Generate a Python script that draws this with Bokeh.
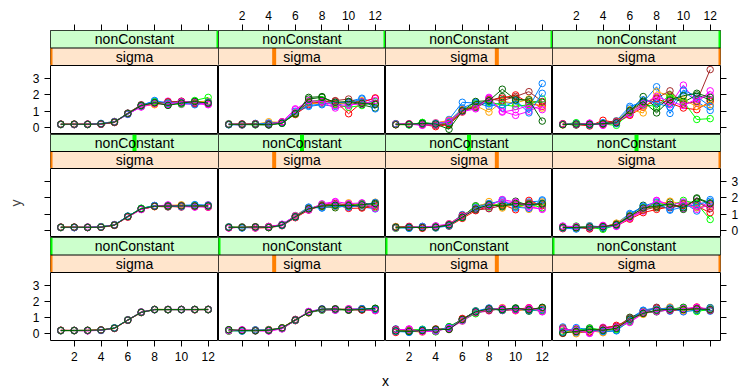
from bokeh.plotting import figure
from bokeh.layouts import gridplot, column
from bokeh.models import Range1d, LinearAxis, FixedTicker, Span
from bokeh.core.properties import value
from bokeh.embed import file_html
from bokeh.resources import INLINE

FONT = "Liberation Sans"

x = list(range(1, 13))
x_ticks = [2, 4, 6, 8, 10, 12]
y_ticks = [0, 1, 2, 3]

sigma_levels = [0.1, 0.2, 0.3, 0.4]            # columns, left to right
non_constant_levels = [1.0, 0.5, 0.0]          # rows, top to bottom

# lattice superpose colours, cycled over the ten replicate series
series_colors = ["#0080ff", "#ff00ff", "#006400", "#ff0000", "#ffa500",
                 "#00ff00", "#a52a2a", "#0080ff", "#ff00ff", "#006400"]

# ---- nonConstant = 1 (top row) ----
y_nc10_s1 = [
    [0.21, 0.19, 0.21, 0.24, 0.36, 0.88, 1.38, 1.62, 1.44, 1.56, 1.62, 1.44],
    [0.19, 0.21, 0.19, 0.21, 0.32, 0.82, 1.28, 1.45, 1.62, 1.42, 1.46, 1.40],
    [0.20, 0.20, 0.20, 0.23, 0.35, 0.87, 1.36, 1.55, 1.38, 1.55, 1.52, 1.58],
    [0.22, 0.18, 0.21, 0.20, 0.33, 0.84, 1.31, 1.46, 1.58, 1.60, 1.44, 1.52],
    [0.20, 0.21, 0.18, 0.25, 0.38, 0.83, 1.34, 1.40, 1.52, 1.48, 1.58, 1.62],
    [0.18, 0.20, 0.20, 0.22, 0.34, 0.86, 1.30, 1.58, 1.46, 1.44, 1.66, 1.85],
    [0.21, 0.22, 0.22, 0.21, 0.31, 0.89, 1.40, 1.50, 1.56, 1.62, 1.50, 1.46],
    [0.20, 0.19, 0.19, 0.26, 0.37, 0.81, 1.33, 1.66, 1.50, 1.52, 1.40, 1.56],
    [0.19, 0.20, 0.21, 0.22, 0.35, 0.85, 1.26, 1.48, 1.42, 1.58, 1.56, 1.42],
    [0.20, 0.21, 0.20, 0.23, 0.34, 0.86, 1.35, 1.52, 1.36, 1.50, 1.60, 1.50],
]
y_nc10_s2 = [
    [0.20, 0.18, 0.26, 0.18, 0.30, 0.92, 1.30, 1.40, 1.30, 1.60, 1.80, 1.50],
    [0.22, 0.22, 0.20, 0.26, 0.34, 1.15, 1.45, 1.55, 1.20, 1.35, 1.60, 1.78],
    [0.19, 0.20, 0.18, 0.16, 0.28, 0.86, 1.85, 1.90, 1.45, 1.55, 1.40, 1.20],
    [0.21, 0.16, 0.24, 0.24, 0.36, 0.80, 1.40, 1.62, 1.62, 0.85, 1.55, 1.82],
    [0.18, 0.21, 0.20, 0.36, 0.32, 0.90, 1.50, 1.48, 1.50, 1.45, 1.65, 1.40],
    [0.24, 0.19, 0.17, 0.20, 0.26, 0.84, 1.60, 1.70, 1.40, 1.25, 1.35, 1.60],
    [0.20, 0.23, 0.22, 0.22, 0.33, 0.88, 1.55, 1.58, 1.65, 1.75, 1.50, 1.45],
    [0.17, 0.17, 0.21, 0.28, 0.29, 1.00, 1.35, 1.45, 1.55, 1.50, 1.75, 1.15],
    [0.22, 0.20, 0.19, 0.19, 0.35, 1.10, 1.65, 1.60, 1.35, 1.40, 1.45, 1.65],
    [0.20, 0.20, 0.20, 0.18, 0.27, 0.85, 1.75, 1.85, 1.55, 1.60, 1.48, 1.42],
]
y_nc10_s3 = [
    [0.22, 0.20, 0.28, 0.16, 0.50, 1.55, 1.50, 1.30, 1.55, 1.45, 1.25, 2.70],
    [0.18, 0.24, 0.16, 0.30, 0.40, 1.00, 1.20, 1.85, 1.00, 0.75, 1.00, 1.40],
    [0.20, 0.18, 0.30, 0.24, 0.15, 1.05, 1.25, 1.60, 1.90, 1.80, 1.60, 1.55],
    [0.24, 0.22, 0.20, 0.06, 0.20, 0.95, 1.40, 1.70, 1.80, 2.00, 1.50, 1.30],
    [0.17, 0.20, 0.22, 0.28, 0.45, 1.10, 1.35, 0.95, 1.60, 1.50, 1.75, 1.20],
    [0.21, 0.16, 0.32, 0.20, 0.30, 1.00, 1.45, 1.55, 1.40, 1.30, 1.40, 1.75],
    [0.19, 0.22, 0.18, 0.14, 0.25, 1.08, 1.30, 1.75, 1.65, 1.90, 2.20, 1.60],
    [0.23, 0.19, 0.24, 0.26, 0.35, 1.20, 1.55, 1.45, 1.20, 1.65, 0.90, 2.10],
    [0.20, 0.21, 0.14, 0.18, 0.40, 0.98, 1.15, 1.80, 0.95, 1.10, 1.35, 1.10],
    [0.18, 0.20, 0.26, 0.22, -0.10, 1.02, 1.60, 1.65, 2.35, 1.70, 1.70, 0.40],
]
y_nc10_s4 = [
    [0.20, 0.28, 0.14, 0.30, 0.42, 1.30, 1.55, 2.50, 0.87, 2.25, 1.60, 1.05],
    [0.18, 0.22, 0.26, 0.16, 0.28, 0.80, 1.35, 1.60, 1.40, 2.60, 1.50, 2.25],
    [0.22, 0.16, 0.20, 0.26, 0.36, 0.95, 1.90, 1.20, 1.85, 1.55, 2.00, 1.70],
    [0.24, 0.20, 0.10, 0.45, 0.30, 0.75, 1.25, 1.75, 1.50, 1.20, 1.10, 1.60],
    [0.16, 0.26, 0.22, 0.18, 0.40, 1.10, 0.90, 2.20, 1.95, 1.70, 1.30, 1.40],
    [0.20, 0.30, 0.18, 0.22, 0.14, 0.90, 1.40, 1.30, 2.00, 1.60, 0.50, 0.55],
    [0.21, 0.18, 0.24, 0.20, 0.38, 1.00, 1.50, 1.80, 2.25, 1.45, 1.60, 3.55],
    [0.19, 0.24, 0.16, 0.28, 0.24, 1.20, 1.70, 1.50, 1.25, 2.30, 1.90, 1.30],
    [0.22, 0.20, 0.28, 0.14, 0.34, 0.85, 1.45, 1.90, 1.60, 1.35, 1.75, 2.00],
    [0.18, 0.22, 0.20, 0.24, 0.30, 1.05, 1.60, 0.90, 1.70, 1.95, 2.10, 1.85],
]

# ---- nonConstant = 0.5 (middle row) ----
y_nc05_s1 = [
    [0.21, 0.19, 0.20, 0.23, 0.36, 0.87, 1.36, 1.53, 1.46, 1.55, 1.57, 1.52],
    [0.19, 0.21, 0.18, 0.21, 0.33, 0.83, 1.31, 1.47, 1.56, 1.47, 1.44, 1.58],
    [0.20, 0.20, 0.21, 0.24, 0.35, 0.88, 1.35, 1.51, 1.52, 1.53, 1.49, 1.46],
    [0.22, 0.19, 0.19, 0.20, 0.32, 0.84, 1.30, 1.49, 1.48, 1.44, 1.54, 1.43],
    [0.20, 0.21, 0.22, 0.22, 0.37, 0.82, 1.34, 1.46, 1.54, 1.58, 1.47, 1.55],
    [0.18, 0.20, 0.20, 0.25, 0.34, 0.86, 1.37, 1.52, 1.50, 1.49, 1.56, 1.49],
    [0.21, 0.22, 0.19, 0.21, 0.33, 0.85, 1.32, 1.48, 1.45, 1.52, 1.51, 1.53],
    [0.20, 0.18, 0.21, 0.23, 0.36, 0.89, 1.33, 1.54, 1.53, 1.46, 1.59, 1.56],
    [0.19, 0.20, 0.22, 0.22, 0.35, 0.84, 1.29, 1.50, 1.57, 1.50, 1.45, 1.44],
    [0.20, 0.21, 0.20, 0.21, 0.34, 0.86, 1.34, 1.49, 1.51, 1.51, 1.50, 1.51],
]
y_nc05_s2 = [
    [0.22, 0.17, 0.23, 0.19, 0.38, 0.92, 1.44, 1.38, 1.52, 1.62, 1.45, 1.33],
    [0.18, 0.22, 0.18, 0.26, 0.31, 0.80, 1.25, 1.58, 1.74, 1.42, 1.60, 1.68],
    [0.21, 0.19, 0.21, 0.22, 0.37, 0.88, 1.38, 1.47, 1.40, 1.55, 1.67, 1.60],
    [0.17, 0.21, 0.16, 0.18, 0.30, 0.79, 1.27, 1.52, 1.61, 1.36, 1.38, 1.47],
    [0.24, 0.18, 0.22, 0.24, 0.35, 0.91, 1.40, 1.43, 1.46, 1.70, 1.52, 1.74],
    [0.19, 0.23, 0.19, 0.20, 0.33, 0.84, 1.30, 1.61, 1.57, 1.48, 1.63, 1.40],
    [0.20, 0.20, 0.24, 0.25, 0.36, 0.86, 1.35, 1.55, 1.66, 1.58, 1.42, 1.55],
    [0.23, 0.16, 0.20, 0.21, 0.32, 0.83, 1.42, 1.40, 1.50, 1.44, 1.56, 1.72],
    [0.16, 0.21, 0.17, 0.23, 0.39, 0.90, 1.28, 1.64, 1.78, 1.65, 1.70, 1.36],
    [0.20, 0.20, 0.22, 0.19, 0.34, 0.85, 1.33, 1.50, 1.55, 1.52, 1.58, 1.66],
]
y_nc05_s3 = [
    [0.24, 0.15, 0.26, 0.16, 0.40, 0.98, 1.28, 1.55, 1.88, 1.38, 1.75, 1.82],
    [0.16, 0.24, 0.18, 0.28, 0.30, 0.78, 1.45, 1.36, 1.76, 1.72, 1.40, 1.35],
    [0.21, 0.19, 0.22, 0.20, 0.38, 0.86, 1.52, 1.62, 1.45, 1.80, 1.55, 1.68],
    [0.18, 0.26, 0.14, 0.24, 0.27, 0.75, 1.22, 1.48, 1.60, 1.28, 1.85, 1.52],
    [0.25, 0.17, 0.23, 0.17, 0.42, 0.92, 1.37, 1.78, 1.38, 1.62, 1.30, 1.75],
    [0.14, 0.21, 0.20, 0.26, 0.32, 0.80, 1.48, 1.44, 1.70, 1.48, 1.62, 1.40],
    [0.22, 0.23, 0.17, 0.22, 0.36, 0.94, 1.26, 1.34, 1.55, 1.58, 1.68, 1.58],
    [0.19, 0.14, 0.25, 0.18, 0.29, 0.84, 1.40, 1.66, 1.82, 1.44, 1.36, 1.88],
    [0.17, 0.22, 0.21, 0.29, 0.41, 0.88, 1.34, 1.52, 1.90, 1.75, 1.48, 1.30],
    [0.20, 0.20, 0.19, 0.21, 0.35, 0.82, 1.32, 1.58, 1.50, 1.66, 1.60, 1.64],
]
y_nc05_s4 = [
    [0.26, 0.12, 0.30, 0.22, 0.44, 1.05, 1.45, 1.60, 1.30, 1.70, 1.20, 1.90],
    [0.14, 0.26, 0.16, 0.32, 0.28, 0.75, 1.20, 1.85, 1.60, 1.35, 1.80, 1.45],
    [0.22, 0.18, 0.24, 0.14, 0.40, 0.90, 1.55, 1.40, 1.75, 1.30, 2.00, 1.70],
    [0.12, 0.22, 0.10, 0.28, 0.30, 0.70, 1.10, 1.30, 1.45, 1.55, 1.50, 1.10],
    [0.24, 0.15, 0.28, 0.20, 0.46, 0.95, 1.30, 1.55, 1.80, 1.60, 1.40, 1.55],
    [0.18, 0.28, 0.20, 0.08, 0.34, 0.82, 1.40, 1.70, 1.50, 1.85, 1.65, 0.68],
    [0.20, 0.20, 0.14, 0.26, 0.38, 0.85, 1.25, 1.45, 1.40, 1.65, 1.75, 1.35],
    [0.16, 0.10, 0.26, 0.18, 0.32, 0.98, 1.50, 1.75, 1.25, 1.45, 1.60, 1.80],
    [0.28, 0.24, 0.18, 0.30, 0.26, 0.78, 1.35, 1.82, 1.55, 1.75, 1.30, 1.60],
    [0.20, 0.18, 0.22, 0.24, 0.36, 0.88, 1.38, 1.50, 1.62, 1.40, 1.95, 1.65],
]

# ---- nonConstant = 0 (bottom row) ----
y_nc00_s1 = [
    [0.21, 0.19, 0.20, 0.23, 0.35, 0.86, 1.32, 1.49, 1.51, 1.50, 1.49, 1.50],
    [0.19, 0.20, 0.18, 0.21, 0.33, 0.84, 1.34, 1.51, 1.50, 1.52, 1.50, 1.49],
    [0.20, 0.21, 0.20, 0.22, 0.36, 0.85, 1.35, 1.50, 1.49, 1.50, 1.51, 1.51],
    [0.22, 0.20, 0.19, 0.24, 0.34, 0.83, 1.31, 1.50, 1.50, 1.49, 1.50, 1.52],
    [0.20, 0.18, 0.21, 0.22, 0.32, 0.86, 1.33, 1.52, 1.51, 1.50, 1.48, 1.50],
    [0.18, 0.21, 0.20, 0.21, 0.35, 0.87, 1.34, 1.49, 1.50, 1.51, 1.50, 1.49],
    [0.21, 0.20, 0.22, 0.23, 0.34, 0.84, 1.32, 1.50, 1.49, 1.50, 1.51, 1.50],
    [0.20, 0.19, 0.20, 0.20, 0.36, 0.85, 1.33, 1.51, 1.50, 1.49, 1.50, 1.51],
    [0.19, 0.21, 0.19, 0.22, 0.33, 0.86, 1.35, 1.49, 1.51, 1.50, 1.49, 1.50],
    [0.20, 0.20, 0.21, 0.23, 0.34, 0.85, 1.33, 1.50, 1.50, 1.50, 1.50, 1.50],
]
y_nc00_s2 = [
    [0.22, 0.16, 0.20, 0.24, 0.37, 0.88, 1.30, 1.47, 1.54, 1.49, 1.52, 1.46],
    [0.18, 0.23, 0.17, 0.18, 0.31, 0.82, 1.37, 1.55, 1.47, 1.53, 1.48, 1.53],
    [0.24, 0.19, 0.23, 0.21, 0.36, 0.86, 1.33, 1.50, 1.52, 1.46, 1.55, 1.57],
    [0.17, 0.22, 0.19, 0.26, 0.33, 0.81, 1.35, 1.48, 1.49, 1.52, 1.47, 1.50],
    [0.21, 0.18, 0.22, 0.20, 0.38, 0.87, 1.29, 1.53, 1.51, 1.54, 1.50, 1.44],
    [0.16, 0.20, 0.18, 0.23, 0.32, 0.84, 1.36, 1.46, 1.48, 1.50, 1.53, 1.52],
    [0.23, 0.21, 0.21, 0.19, 0.35, 0.89, 1.31, 1.51, 1.55, 1.47, 1.49, 1.48],
    [0.20, 0.17, 0.24, 0.22, 0.34, 0.83, 1.34, 1.54, 1.50, 1.51, 1.56, 1.51],
    [0.19, 0.24, 0.20, 0.17, 0.30, 0.86, 1.38, 1.49, 1.46, 1.55, 1.51, 1.43],
    [0.25, 0.20, 0.19, 0.21, 0.36, 0.85, 1.32, 1.52, 1.53, 1.48, 1.50, 1.58],
]
y_nc00_s3 = [
    [0.30, 0.08, 0.22, 0.18, 0.40, 0.92, 1.38, 1.55, 1.45, 1.52, 1.58, 1.44],
    [0.12, 0.30, 0.14, 0.26, 0.30, 0.78, 1.28, 1.42, 1.60, 1.46, 1.55, 1.36],
    [0.26, 0.12, 0.24, 0.14, 0.44, 0.88, 1.42, 1.48, 1.52, 1.60, 1.40, 1.62],
    [0.08, 0.26, 0.18, 0.30, 0.28, 0.95, 1.30, 1.58, 1.44, 1.50, 1.62, 1.48],
    [0.22, 0.16, 0.10, 0.22, 0.36, 0.80, 1.36, 1.46, 1.62, 1.42, 1.50, 1.56],
    [0.16, 0.22, 0.28, 0.12, 0.42, 0.86, 1.24, 1.52, 1.48, 1.56, 1.46, 1.42],
    [0.28, 0.18, 0.16, 0.24, 0.32, 0.90, 1.34, 1.44, 1.56, 1.48, 1.52, 1.60],
    [0.14, 0.10, 0.26, 0.20, 0.38, 0.82, 1.40, 1.60, 1.46, 1.54, 1.44, 1.50],
    [0.24, 0.28, 0.12, 0.16, 0.34, 0.84, 1.32, 1.50, 1.58, 1.44, 1.60, 1.38],
    [0.18, 0.14, 0.20, 0.28, 0.26, 0.88, 1.36, 1.54, 1.50, 1.58, 1.48, 1.64],
]
y_nc00_s4 = [
    [0.42, 0.05, 0.28, 0.10, 0.20, 0.95, 1.46, 1.62, 1.40, 1.58, 1.52, 1.40],
    [0.08, 0.32, 0.02, 0.40, 0.46, 0.72, 1.24, 1.44, 1.62, 1.38, 1.62, 1.55],
    [0.30, 0.16, 0.36, 0.18, 0.30, 1.02, 1.30, 1.36, 1.50, 1.64, 1.44, 1.62],
    [0.02, 0.28, 0.12, 0.32, 0.52, 0.80, 1.40, 1.58, 1.46, 1.48, 1.66, 1.46],
    [0.24, 0.00, 0.20, 0.06, 0.38, 0.88, 1.20, 1.48, 1.66, 1.42, 1.50, 1.58],
    [0.14, 0.24, 0.32, 0.26, 0.24, 0.76, 1.36, 1.40, 1.54, 1.60, 1.38, 1.52],
    [0.36, 0.12, 0.08, 0.36, 0.44, 0.98, 1.28, 1.64, 1.44, 1.52, 1.58, 1.44],
    [0.10, 0.38, 0.24, 0.14, 0.18, 0.84, 1.44, 1.52, 1.60, 1.36, 1.46, 1.60],
    [0.28, 0.20, 0.04, 0.28, 0.40, 0.70, 1.34, 1.38, 1.48, 1.56, 1.64, 1.48],
    [0.04, 0.14, 0.26, 0.22, 0.34, 0.90, 1.26, 1.46, 1.52, 1.50, 1.54, 1.50],
]

panels = [
    [y_nc10_s1, y_nc10_s2, y_nc10_s3, y_nc10_s4],
    [y_nc05_s1, y_nc05_s2, y_nc05_s3, y_nc05_s4],
    [y_nc00_s1, y_nc00_s2, y_nc00_s3, y_nc00_s4],
]

# ---- layout sizes (pixels) ----
col_w = [168, 167, 167, 168]
panel_h = [69, 69, 68]
strip_h = [35, 34, 35]
LEFT, RIGHT, TOP, BOTTOM = 50, 21, 30, 30

x_rng = Range1d(0.23, 12.77)
y_rng = Range1d(-0.42, 3.8)

STRIP_BG = ["#ffe5cc", "#ccffcc"]      # sigma, nonConstant
STRIP_MARK = ["#ff7f00", "#00ff00"]


def base_fig(fw, fh, left, right, top, bottom, y_range):
    p = figure(frame_width=fw, frame_height=fh, x_range=x_rng, y_range=y_range,
               x_axis_location=None, y_axis_location=None,
               toolbar_location=None, output_backend="svg",
               min_border_left=left, min_border_right=right,
               min_border_top=top, min_border_bottom=bottom,
               background_fill_color="white", border_fill_color="white",
               outline_line_color="black", outline_line_width=1)
    p.xgrid.visible = False
    p.ygrid.visible = False
    return p


def add_axis(p, side, ticks, show_labels):
    ax = LinearAxis(ticker=FixedTicker(ticks=ticks))
    ax.axis_line_color = None
    ax.major_tick_in = 0
    ax.major_tick_out = 6
    ax.major_tick_line_color = "black"
    ax.minor_tick_line_color = None
    ax.major_label_text_font = FONT
    ax.major_label_text_font_size = "12px"
    ax.major_label_text_color = "black"
    ax.major_label_standoff = 5
    if not show_labels:
        ax.major_label_overrides = {t: "" for t in ticks}
    p.add_layout(ax, side)
    return ax


def strip_fig(r, c):
    left = LEFT if c == 0 else 0
    right = RIGHT if c == 3 else 0
    top = TOP if r == 0 else 0
    p = base_fig(col_w[c], strip_h[r], left, right, top, 0, Range1d(0, 2))
    p.extra_x_ranges = {"s": Range1d(0, 1)}
    # strip backgrounds: sigma below, nonConstant above
    p.quad(left=[0, 0], right=[1, 1], bottom=[0, 1], top=[1, 2],
           fill_color=STRIP_BG, line_color=None, x_range_name="s")
    s_pos = (sigma_levels[c] - min(sigma_levels)) / (max(sigma_levels) - min(sigma_levels))
    n_pos = ((non_constant_levels[r] - min(non_constant_levels))
             / (max(non_constant_levels) - min(non_constant_levels)))
    p.rect(x=[s_pos, n_pos], y=[0.5, 1.5], width=4, height=1, width_units="screen",
           fill_color=STRIP_MARK, line_color=None, x_range_name="s")
    p.add_layout(Span(location=1, dimension="width", line_color="black", line_width=1))
    p.text(x=[0.5, 0.5], y=[0.5, 1.5], text=["sigma", "nonConstant"],
           text_align="center", text_baseline="middle",
           text_font=value(FONT), text_font_size="14px", text_color="black",
           x_range_name="s")
    if r == 0:
        add_axis(p, "above", x_ticks, show_labels=(c % 2 == 1))
    return p


def panel_fig(r, c):
    left = LEFT if c == 0 else 0
    right = RIGHT if c == 3 else 0
    bottom = BOTTOM if r == 2 else 0
    p = base_fig(col_w[c], panel_h[r], left, right, 0, bottom, y_rng)
    for k, ys in enumerate(panels[r][c]):
        col = series_colors[k]
        p.line(x, ys, line_color=col, line_width=1)
        p.scatter(x, ys, marker="circle", size=6.5, fill_color=None,
                  line_color=col, line_width=1)
    if c == 0:
        ax = add_axis(p, "left", y_ticks, show_labels=(r != 1))
        if r == 1:
            ax.axis_label = "y"
            ax.axis_label_text_font = FONT
            ax.axis_label_text_font_size = "14px"
            ax.axis_label_text_font_style = "normal"
            ax.axis_label_standoff = 21
    if c == 3:
        add_axis(p, "right", y_ticks, show_labels=(r == 1))
    if r == 2:
        add_axis(p, "below", x_ticks, show_labels=(c % 2 == 0))
    return p


rows = []
for r in range(3):
    rows.append([strip_fig(r, c) for c in range(4)])
    rows.append([panel_fig(r, c) for c in range(4)])

grid = gridplot(rows, toolbar_location=None, merge_tools=False)

# x-axis title centred under the panel block
xlab = figure(width=741, height=18, x_range=Range1d(0, 741), y_range=Range1d(0, 18),
              x_axis_location=None, y_axis_location=None, toolbar_location=None,
              output_backend="svg", min_border=0, outline_line_color=None,
              background_fill_color="white", border_fill_color="white")
xlab.xgrid.visible = False
xlab.ygrid.visible = False
xlab.text(x=[385], y=[8], text=["x"], text_align="center", text_baseline="middle",
          text_font=value(FONT), text_font_size="14px", text_color="black")

layout = column(grid, xlab, spacing=0)

open("out.html", "w").write(file_html(layout, INLINE))
